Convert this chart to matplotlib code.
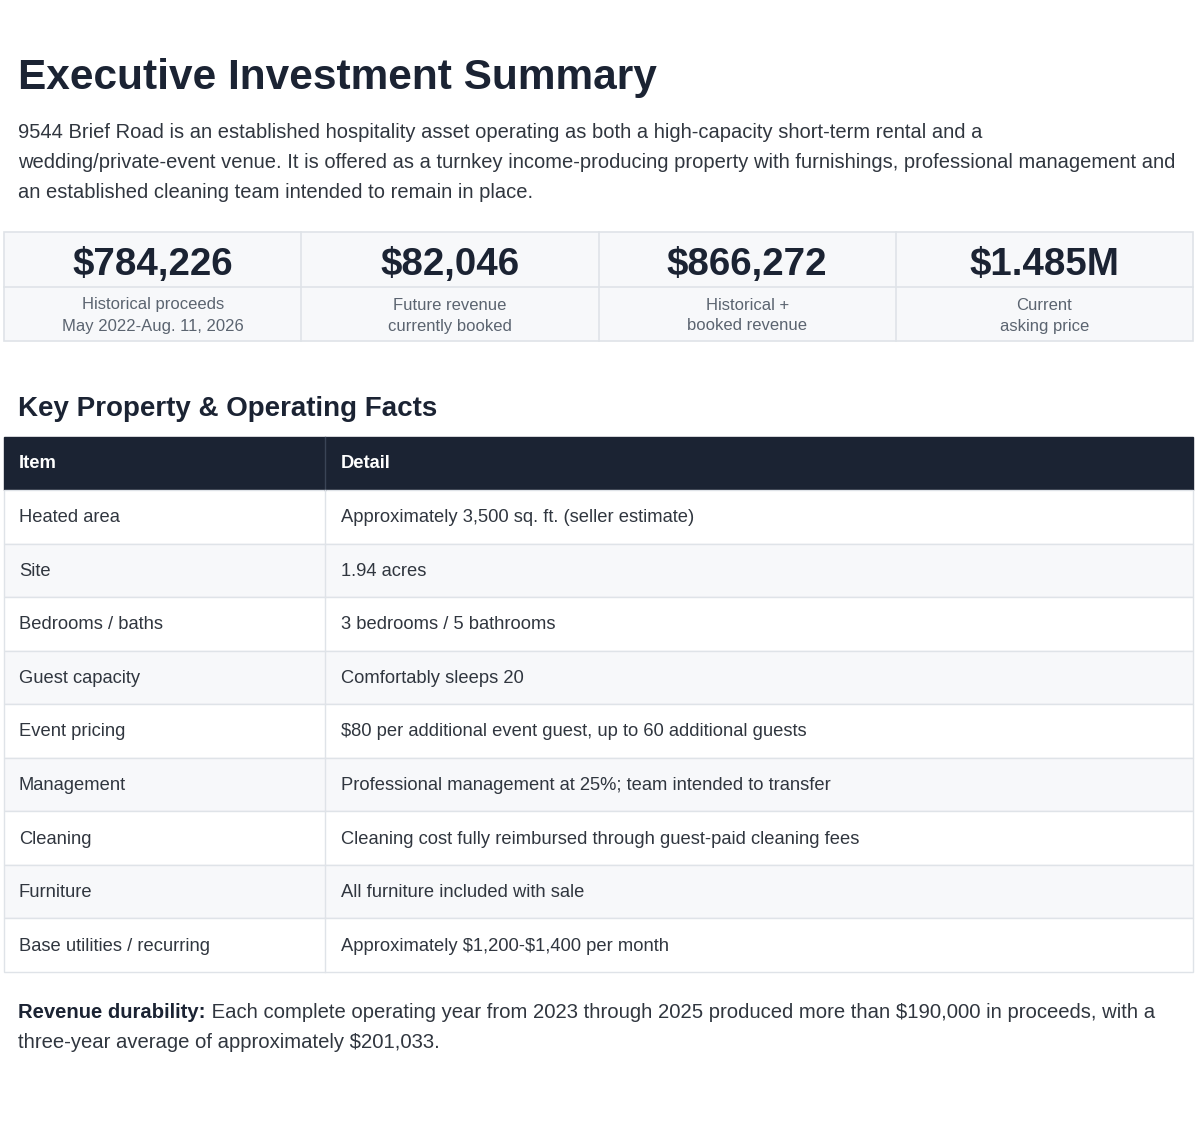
import matplotlib
matplotlib.use('Agg')
import matplotlib.pyplot as plt
from matplotlib.patches import Rectangle

plt.rcParams['font.family'] = ['Liberation Sans', 'DejaVu Sans']
plt.rcParams['text.parse_math'] = False

title = 'Executive Investment Summary'
intro_lines = [
    '9544 Brief Road is an established hospitality asset operating as both a high-capacity short-term rental and a',
    'wedding/private-event venue. It is offered as a turnkey income-producing property with furnishings, professional management and',
    'an established cleaning team intended to remain in place.',
]

kpi_values = ['$784,226', '$82,046', '$866,272', '$1.485M']
kpi_labels = [
    ('Historical proceeds', 'May 2022-Aug. 11, 2026'),
    ('Future revenue', 'currently booked'),
    ('Historical +', 'booked revenue'),
    ('Current', 'asking price'),
]

section_title = 'Key Property & Operating Facts'
table_header = ['Item', 'Detail']
table_items = [
    'Heated area', 'Site', 'Bedrooms / baths', 'Guest capacity', 'Event pricing',
    'Management', 'Cleaning', 'Furniture', 'Base utilities / recurring',
]
table_details = [
    'Approximately 3,500 sq. ft. (seller estimate)',
    '1.94 acres',
    '3 bedrooms / 5 bathrooms',
    'Comfortably sleeps 20',
    '$80 per additional event guest, up to 60 additional guests',
    'Professional management at 25%; team intended to transfer',
    'Cleaning cost fully reimbursed through guest-paid cleaning fees',
    'All furniture included with sale',
    'Approximately $1,200-$1,400 per month',
]

note_bold = 'Revenue durability:'
note_line1 = ' Each complete operating year from 2023 through 2025 produced more than $190,000 in proceeds, with a'
note_line2 = 'three-year average of approximately $201,033.'

# colours
DARK = '#1b2333'
TEXT = '#30363f'
MUTED = '#5b6470'
BORDER = '#dfe3e8'
LIGHT = '#f7f8fa'

W, H = 1200, 1143
fig = plt.figure(figsize=(W / 100, H / 100), dpi=100)
ax = fig.add_axes([0, 0, 1, 1])
ax.set_xlim(0, W)
ax.set_ylim(H, 0)
ax.axis('off')

# title and intro
ax.text(18, 78, title, fontsize=30.5, fontweight='bold', color=DARK, va='center')
for i, line in enumerate(intro_lines):
    ax.text(18, 133 + i * 30, line, fontsize=14.5, color=TEXT, va='center')

# KPI cards
left, right = 4, 1193
top, mid, bottom = 232, 287, 341
cw = (right - left) / len(kpi_values)
ax.add_patch(Rectangle((left, top), right - left, bottom - top, facecolor=LIGHT,
                       edgecolor=BORDER, lw=1.2))
ax.plot([left, right], [mid, mid], color=BORDER, lw=1.2)
for i, (val, lab) in enumerate(zip(kpi_values, kpi_labels)):
    x0 = left + i * cw
    if i > 0:
        ax.plot([x0, x0], [top, bottom], color=BORDER, lw=1.2)
    cx = x0 + cw / 2
    ax.text(cx, 265, val, fontsize=27.7, fontweight='bold', color=DARK, ha='center', va='center')
    ax.text(cx, 305, lab[0], fontsize=12, color=MUTED, ha='center', va='center')
    ax.text(cx, 326, lab[1], fontsize=12, color=MUTED, ha='center', va='center')

# section heading
ax.text(18, 409, section_title, fontsize=20, fontweight='bold', color=DARK, va='center')

# table
col_x = 325
head_top, head_bot = 437, 490
row_h = (972 - head_bot) / len(table_items)
ax.add_patch(Rectangle((left, head_top), right - left, head_bot - head_top,
                       facecolor=DARK, edgecolor=DARK, lw=1))
ax.plot([col_x, col_x], [head_top, head_bot], color='#3a4456', lw=1)
ax.text(19, 464, table_header[0], fontsize=13.2, fontweight='bold', color='white', va='center')
ax.text(341, 464, table_header[1], fontsize=13.2, fontweight='bold', color='white', va='center')

for i, (item, detail) in enumerate(zip(table_items, table_details)):
    y0 = head_bot + i * row_h
    fc = 'white' if i % 2 == 0 else LIGHT
    ax.add_patch(Rectangle((left, y0), right - left, row_h, facecolor=fc,
                           edgecolor=BORDER, lw=1))
    ax.plot([col_x, col_x], [y0, y0 + row_h], color=BORDER, lw=1)
    yc = y0 + row_h / 2 + 1
    ax.text(19, yc, item, fontsize=13.2, color=TEXT, va='center')
    ax.text(341, yc, detail, fontsize=13.2, color=TEXT, va='center')

# closing note
fig.canvas.draw()
r = fig.canvas.get_renderer()
tb = ax.text(18, 1012, note_bold, fontsize=14.6, fontweight='bold', color=DARK, va='center')
bb = tb.get_window_extent(renderer=r)
x_end = ax.transData.inverted().transform((bb.x1, bb.y0))[0]
ax.text(x_end, 1012, note_line1, fontsize=14.6, color=TEXT, va='center')
ax.text(18, 1042, note_line2, fontsize=14.6, color=TEXT, va='center')

fig.savefig('out.png', dpi=100, facecolor='white')
